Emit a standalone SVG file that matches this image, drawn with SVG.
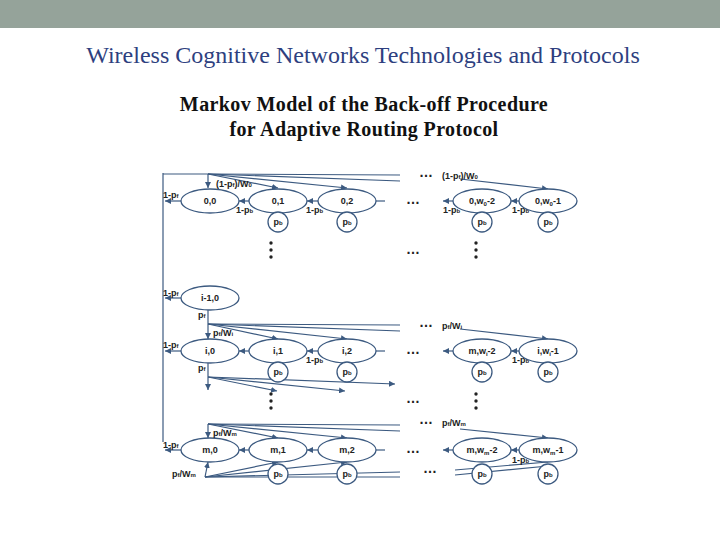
<svg xmlns="http://www.w3.org/2000/svg" width="720" height="540" viewBox="0 0 720 540">
<defs>
<marker id="a" viewBox="0 0 6 6" refX="6" refY="3" markerWidth="5" markerHeight="5" orient="auto"><path d="M0,0L6,3L0,6z" fill="#3c5a80"/></marker>
</defs>
<style>
.n ellipse,.n circle{fill:#fff;stroke:#3c5a80;stroke-width:1.3}
.t{font-family:"Liberation Sans",Arial,sans-serif;font-size:9px;font-weight:bold;fill:#222;text-anchor:middle}
.l{font-family:"Liberation Sans",Arial,sans-serif;font-size:9px;font-weight:bold;fill:#222}
.c line,.c path{stroke:#3c5a80;stroke-width:1.2;fill:none}
.ar{marker-end:url(#a)}
.d{font-family:"Liberation Sans",Arial,sans-serif;font-size:14px;font-weight:bold;fill:#222;text-anchor:middle}
</style>
<rect width="720" height="540" fill="#fff"/>
<rect width="720" height="28" fill="#95a39a"/>
<text x="363" y="63" font-family="Liberation Serif,serif" font-size="24" fill="#2e3f7f" text-anchor="middle">Wireless Cognitive Networks Technologies and Protocols</text>
<text x="364" y="111" font-family="Liberation Serif,serif" font-size="20" font-weight="bold" letter-spacing="0.4" fill="#111" text-anchor="middle">Markov Model of the Back-off Procedure</text>
<text x="364" y="136" font-family="Liberation Serif,serif" font-size="20" font-weight="bold" letter-spacing="0.4" fill="#111" text-anchor="middle">for Adaptive Routing Protocol</text>
<g class="c">
<line x1="163" y1="173" x2="163" y2="442"/>
<line x1="163" y1="174" x2="208" y2="174"/>
<line x1="208" y1="174" x2="400" y2="175"/>
<line x1="208" y1="174" x2="400" y2="181"/>
<line class="ar" x1="208" y1="174" x2="208" y2="188"/>
<line class="ar" x1="208" y1="174" x2="278" y2="188"/>
<line class="ar" x1="208" y1="174" x2="347" y2="188"/>
<line class="ar" x1="460" y1="179" x2="548" y2="189"/>
<line class="ar" x1="181" y1="201" x2="165" y2="201"/>
<line class="ar" x1="249" y1="201" x2="239" y2="201"/>
<line class="ar" x1="318" y1="201" x2="307" y2="201"/>
<line x1="385" y1="201" x2="376" y2="201"/>
<line class="ar" x1="453" y1="201" x2="443" y2="201"/>
<line class="ar" x1="519" y1="201" x2="511" y2="201"/>
<line class="ar" x1="181" y1="298" x2="165" y2="298"/>
<line x1="208" y1="310" x2="208" y2="324"/>
<line x1="208" y1="324" x2="400" y2="325"/>
<line x1="208" y1="324" x2="400" y2="331"/>
<line class="ar" x1="208" y1="324" x2="208" y2="339"/>
<line class="ar" x1="208" y1="324" x2="278" y2="339"/>
<line class="ar" x1="208" y1="324" x2="347" y2="339"/>
<line class="ar" x1="460" y1="329" x2="548" y2="339"/>
<line class="ar" x1="181" y1="351" x2="165" y2="351"/>
<line class="ar" x1="249" y1="351" x2="239" y2="351"/>
<line class="ar" x1="318" y1="351" x2="307" y2="351"/>
<line x1="385" y1="351" x2="376" y2="351"/>
<line class="ar" x1="453" y1="351" x2="443" y2="351"/>
<line class="ar" x1="519" y1="351" x2="511" y2="351"/>
<line class="ar" x1="208" y1="363" x2="208" y2="390"/>
<line class="ar" x1="208" y1="377" x2="395" y2="384"/>
<line class="ar" x1="208" y1="377" x2="277" y2="391"/>
<line class="ar" x1="208" y1="377" x2="345" y2="391"/>
<line x1="208" y1="424" x2="400" y2="425"/>
<line x1="208" y1="424" x2="400" y2="431"/>
<line class="ar" x1="208" y1="424" x2="208" y2="438"/>
<line class="ar" x1="208" y1="424" x2="278" y2="438"/>
<line class="ar" x1="208" y1="424" x2="347" y2="438"/>
<line class="ar" x1="460" y1="429" x2="548" y2="438"/>
<line class="ar" x1="181" y1="450" x2="165" y2="450"/>
<line class="ar" x1="249" y1="450" x2="239" y2="450"/>
<line class="ar" x1="318" y1="450" x2="307" y2="450"/>
<line x1="385" y1="450" x2="376" y2="450"/>
<line class="ar" x1="453" y1="450" x2="443" y2="450"/>
<line class="ar" x1="519" y1="450" x2="511" y2="450"/>
<line x1="205" y1="477" x2="400" y2="477"/>
<line x1="205" y1="477" x2="400" y2="472"/>
<line class="ar" x1="205" y1="477" x2="278" y2="462"/>
<line class="ar" x1="205" y1="477" x2="347" y2="462"/>
<line class="ar" x1="205" y1="477" x2="208" y2="462"/>
<line x1="455" y1="470" x2="548" y2="462"/>
<line x1="455" y1="475" x2="548" y2="466"/>
</g>
<g id="r0">
<g class="n" id="n00"><ellipse cx="210" cy="201" rx="29" ry="12"/><text class="t" x="210" y="204">0,0</text></g>
<g class="n" id="n01"><ellipse cx="278" cy="201" rx="29" ry="12"/><text class="t" x="278" y="204">0,1</text></g>
<g class="n" id="n02"><ellipse cx="347" cy="201" rx="29" ry="12"/><text class="t" x="347" y="204">0,2</text></g>
<g class="n" id="n0w2"><ellipse cx="482" cy="201" rx="29" ry="12"/><text class="t" x="482" y="204">0,w<tspan font-size="6" dy="2">0</tspan><tspan dy="-2">-2</tspan></text></g>
<g class="n" id="n0w1"><ellipse cx="548" cy="201" rx="29" ry="12"/><text class="t" x="548" y="204">0,w<tspan font-size="6" dy="2">0</tspan><tspan dy="-2">-1</tspan></text></g>
<g class="n"><circle cx="278" cy="222" r="10"/><text class="t" x="278" y="225">p<tspan font-size="6">b</tspan></text></g>
<g class="n"><circle cx="347" cy="222" r="10"/><text class="t" x="347" y="225">p<tspan font-size="6">b</tspan></text></g>
<g class="n"><circle cx="482" cy="222" r="10"/><text class="t" x="482" y="225">p<tspan font-size="6">b</tspan></text></g>
<g class="n"><circle cx="548" cy="222" r="10"/><text class="t" x="548" y="225">p<tspan font-size="6">b</tspan></text></g>
</g>
<g id="ri1">
<g class="n" id="ni10"><ellipse cx="210" cy="298" rx="29" ry="12"/><text class="t" x="210" y="301">i-1,0</text></g>
</g>
<g id="ri">
<g class="n" id="ni0"><ellipse cx="210" cy="351" rx="29" ry="12"/><text class="t" x="210" y="354">i,0</text></g>
<g class="n" id="ni1"><ellipse cx="278" cy="351" rx="29" ry="12"/><text class="t" x="278" y="354">i,1</text></g>
<g class="n" id="ni2"><ellipse cx="347" cy="351" rx="29" ry="12"/><text class="t" x="347" y="354">i,2</text></g>
<g class="n" id="niw2"><ellipse cx="482" cy="351" rx="29" ry="12"/><text class="t" x="482" y="354">m,w<tspan font-size="6" dy="2">i</tspan><tspan dy="-2">-2</tspan></text></g>
<g class="n" id="niw1"><ellipse cx="548" cy="351" rx="29" ry="12"/><text class="t" x="548" y="354">i,w<tspan font-size="6" dy="2">i</tspan><tspan dy="-2">-1</tspan></text></g>
<g class="n"><circle cx="278" cy="372" r="10"/><text class="t" x="278" y="375">p<tspan font-size="6">b</tspan></text></g>
<g class="n"><circle cx="347" cy="372" r="10"/><text class="t" x="347" y="375">p<tspan font-size="6">b</tspan></text></g>
<g class="n"><circle cx="482" cy="372" r="10"/><text class="t" x="482" y="375">p<tspan font-size="6">b</tspan></text></g>
<g class="n"><circle cx="548" cy="372" r="10"/><text class="t" x="548" y="375">p<tspan font-size="6">b</tspan></text></g>
</g>
<g id="rm">
<g class="n" id="nm0"><ellipse cx="210" cy="450" rx="29" ry="12"/><text class="t" x="210" y="453">m,0</text></g>
<g class="n" id="nm1"><ellipse cx="278" cy="450" rx="29" ry="12"/><text class="t" x="278" y="453">m,1</text></g>
<g class="n" id="nm2"><ellipse cx="347" cy="450" rx="29" ry="12"/><text class="t" x="347" y="453">m,2</text></g>
<g class="n" id="nmw2"><ellipse cx="482" cy="450" rx="29" ry="12"/><text class="t" x="482" y="453">m,w<tspan font-size="6" dy="2">m</tspan><tspan dy="-2">-2</tspan></text></g>
<g class="n" id="nmw1"><ellipse cx="548" cy="450" rx="29" ry="12"/><text class="t" x="548" y="453">m,w<tspan font-size="6" dy="2">m</tspan><tspan dy="-2">-1</tspan></text></g>
<g class="n"><circle cx="278" cy="474" r="10"/><text class="t" x="278" y="477">p<tspan font-size="6">b</tspan></text></g>
<g class="n"><circle cx="347" cy="474" r="10"/><text class="t" x="347" y="477">p<tspan font-size="6">b</tspan></text></g>
<g class="n"><circle cx="482" cy="474" r="10"/><text class="t" x="482" y="477">p<tspan font-size="6">b</tspan></text></g>
<g class="n"><circle cx="548" cy="474" r="10"/><text class="t" x="548" y="477">p<tspan font-size="6">b</tspan></text></g>
</g>
<g id="labels">
<text class="l" x="163" y="198">1-p<tspan font-size="6">f</tspan></text>
<text class="l" x="216" y="187">(1-p<tspan font-size="6">f</tspan>)/W<tspan font-size="6">0</tspan></text>
<text class="l" x="236" y="213">1-p<tspan font-size="6">b</tspan></text>
<text class="l" x="306" y="213">1-p<tspan font-size="6">b</tspan></text>
<text class="l" x="442" y="179">(1-p<tspan font-size="6">f</tspan>)/W<tspan font-size="6">0</tspan></text>
<text class="l" x="443" y="213">1-p<tspan font-size="6">b</tspan></text>
<text class="l" x="512" y="213">1-p<tspan font-size="6">b</tspan></text>
<text class="l" x="163" y="296">1-p<tspan font-size="6">f</tspan></text>
<text class="l" x="198" y="318">p<tspan font-size="6">f</tspan></text>
<text class="l" x="213" y="336">p<tspan font-size="6">f</tspan>/W<tspan font-size="6">i</tspan></text>
<text class="l" x="442" y="329">p<tspan font-size="6">f</tspan>/W<tspan font-size="6">i</tspan></text>
<text class="l" x="163" y="348">1-p<tspan font-size="6">f</tspan></text>
<text class="l" x="306" y="363">1-p<tspan font-size="6">b</tspan></text>
<text class="l" x="512" y="363">1-p<tspan font-size="6">b</tspan></text>
<text class="l" x="198" y="371">p<tspan font-size="6">f</tspan></text>
<text class="l" x="442" y="426">p<tspan font-size="6">f</tspan>/W<tspan font-size="6">m</tspan></text>
<text class="l" x="213" y="436">p<tspan font-size="6">f</tspan>/W<tspan font-size="6">m</tspan></text>
<text class="l" x="163" y="448">1-p<tspan font-size="6">f</tspan></text>
<text class="l" x="512" y="463">1-p<tspan font-size="6">b</tspan></text>
<text class="l" x="172" y="477">p<tspan font-size="6">f</tspan>/W<tspan font-size="6">m</tspan></text>
</g>
<g id="dots">
<text class="d" x="426" y="177">…</text>
<text class="d" x="413" y="204">…</text>
<text class="d" x="413" y="254">…</text>
<text class="d" x="426" y="327">…</text>
<text class="d" x="413" y="354">…</text>
<text class="d" x="413" y="403">…</text>
<text class="d" x="426" y="424">…</text>
<text class="d" x="413" y="453">…</text>
<text class="d" x="430" y="473">…</text>
<g fill="#222"><circle cx="271" cy="243" r="1.7"/><circle cx="271" cy="250" r="1.7"/><circle cx="271" cy="257" r="1.7"/>
<circle cx="476" cy="243" r="1.7"/><circle cx="476" cy="250" r="1.7"/><circle cx="476" cy="257" r="1.7"/>
<circle cx="271" cy="394" r="1.7"/><circle cx="271" cy="401" r="1.7"/><circle cx="271" cy="408" r="1.7"/>
<circle cx="476" cy="394" r="1.7"/><circle cx="476" cy="401" r="1.7"/><circle cx="476" cy="408" r="1.7"/></g>
</g>
</svg>
